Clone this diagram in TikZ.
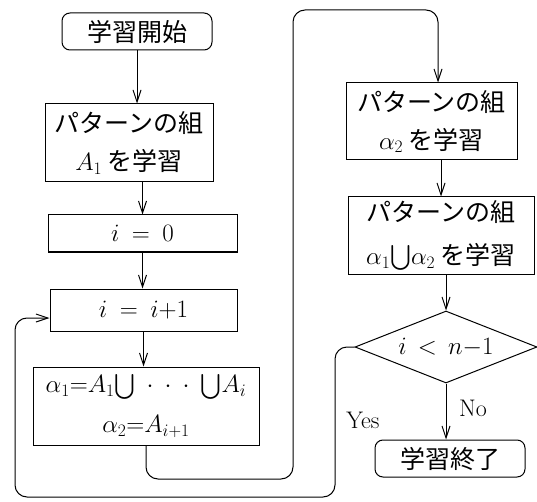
\RequirePackage{fix-cm}
\documentclass[tikz,border=0pt]{standalone}
\usepackage{exscale}
\usepackage{fontspec}
\newfontfamily\cjk{Noto Sans CJK JP}
\usetikzlibrary{arrows.meta,shapes.geometric}
\begin{document}
\begin{tikzpicture}[x=1pt,y=-1pt,
  box/.style={draw, line width=1pt, inner sep=0pt, align=center, font={\cjk\fontsize{25}{38}\selectfont}},
  term/.style={box, rounded corners=8pt},
  dia/.style={box, shape=diamond, shape aspect=2.5},
  arr/.style={draw, line width=1pt, -{Straight Barb[length=12pt,width=8pt]}},
  lab/.style={font=\fontsize{24}{28}\selectfont}
]
\useasboundingbox (0,0) rectangle (537,502);
\node[term, minimum width=150, minimum height=37] (start) at (137,31.5) {学習開始};
\node[box, minimum width=168, minimum height=78] (b1) at (129,143) {パターンの組\\$A_1$ を学習};
\node[box, minimum width=189, minimum height=37] (b2) at (142.5,233.5) {$i\ =\ 0$};
\node[box, minimum width=187, minimum height=42] (b3) at (143.5,310) {$i\ =\ i{+}1$};
\node[box, minimum width=226, minimum height=78] (b4) at (146,406) {$\alpha_1{=}A_1{\bigcup}\ \cdot\ \cdot\ \cdot\ {\bigcup}A_i$\\[2pt]$\alpha_2{=}A_{i+1}$};
\node[box, minimum width=171, minimum height=77] (b5) at (431.5,121.5) {パターンの組\\$\alpha_2$ を学習};
\node[box, minimum width=186, minimum height=77] (b6) at (441,235.5) {パターンの組\\[5pt]$\alpha_1{\bigcup}\alpha_2$ を学習};
\node[dia, minimum width=182, minimum height=72] (d) at (446,347) {$i\,<\,n{-}1$};
\node[term, minimum width=150, minimum height=37] (end) at (450,458.5) {学習終了};
\node[lab] (yes) at (363,420) {Yes};
\node[lab] (no) at (473,408) {No};
\coordinate (p1) at (293,479);
\coordinate (p2) at (293,10);
\coordinate (p3) at (438,10);
\coordinate (q1) at (335,497);
\coordinate (q2) at (15,497);
\coordinate (q3) at (15,318);
\draw[arr] (start.south) -- (start.south |- b1.north);
\draw[arr] (b2.north |- b1.south) -- (b2.north);
\draw[arr] (b2.south) -- (b2.south |- b3.north);
\draw[arr] (b3.south) -- (b3.south |- b4.north);
\draw[arr, rounded corners=12pt] (b4.south) |- (p1) -- (p2) -- (p3) -- (p3 |- b5.north);
\draw[arr] (b6.north |- b5.south) -- (b6.north);
\draw[arr] (d.north |- b6.south) -- (d.north);
\draw[arr] (d.south) -- (d.south |- end.north);
\draw[arr, rounded corners=12pt] (d.west) -| (q1) -- (q2) -- (q3) -- (q3 -| b3.west);
\end{tikzpicture}
\end{document}
